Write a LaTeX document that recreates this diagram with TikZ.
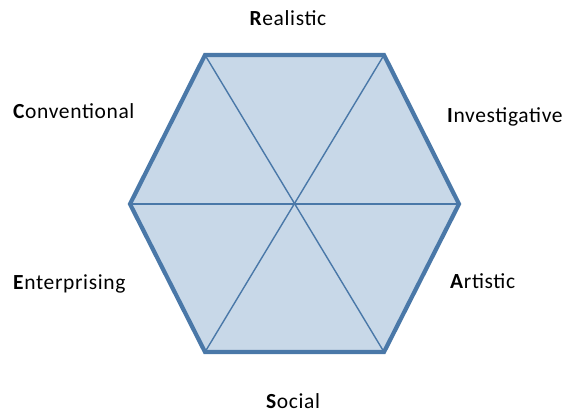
\documentclass[tikz,border=0pt]{standalone}
\usepackage{fontspec}
\setmainfont{Carlito}[LetterSpace=3]
\definecolor{hexfill}{HTML}{C8D8E8}
\definecolor{hexline}{HTML}{4A78A8}
\begin{document}
\begin{tikzpicture}[x=1pt,y=-1pt,
  lab/.style={font=\fontsize{21.5}{25}\selectfont, inner sep=0pt, text=black},
  outer/.style={draw=hexline, line width=4.2pt, line join=miter},
  inner/.style={draw=hexline, line width=1.4pt}]
\useasboundingbox (0,0) rectangle (573,416);
\coordinate (v1) at (205,55);
\coordinate (v2) at (384,55);
\coordinate (v3) at (459,204);
\coordinate (v4) at (384,352);
\coordinate (v5) at (205,352);
\coordinate (v6) at (130,204);
\fill[hexfill] (v1) -- (v2) -- (v3) -- (v4) -- (v5) -- (v6) -- cycle;
\draw[inner] (v1) -- (v4);
\draw[inner] (v2) -- (v5);
\draw[inner] (v3) -- (v6);
\draw[outer] (v1) -- (v2) -- (v3) -- (v4) -- (v5) -- (v6) -- cycle;
\node[lab, anchor=base] (r) at (288,25) {\textbf{R}ealistic};
\node[lab, anchor=base west] (i) at (447,122) {\textbf{I}nvestigative};
\node[lab, anchor=base west] (a) at (450,288) {\textbf{A}rtistic};
\node[lab, anchor=base] (s) at (293,408) {\textbf{S}ocial};
\node[lab, anchor=base west] (e) at (13,289) {\textbf{E}nterprising};
\node[lab, anchor=base west] (c) at (13,118) {\textbf{C}onventional};
\end{tikzpicture}
\end{document}
